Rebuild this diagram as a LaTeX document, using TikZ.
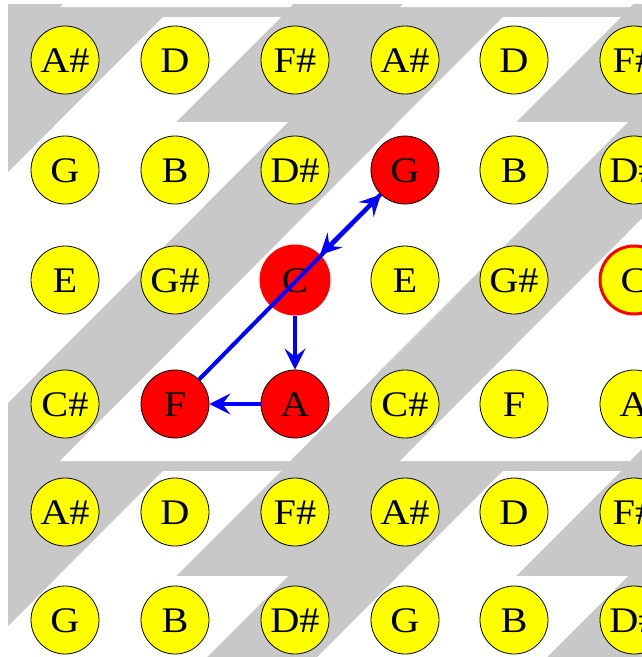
\documentclass[tikz,border=0pt]{standalone}
\usepackage{fontspec}
\setmainfont{Liberation Serif}[FakeStretch=1.12]
\usetikzlibrary{arrows.meta}
\definecolor{bggray}{RGB}{200,200,200}
\definecolor{noteyellow}{RGB}{255,255,0}
\definecolor{notered}{RGB}{255,0,0}
\definecolor{arrowblue}{RGB}{0,0,255}
\begin{document}
\begin{tikzpicture}[x=1pt,y=-1pt,
  note/.style={circle, draw=black, line width=0.8pt, fill=noteyellow, minimum size=68pt, inner sep=0pt,
    font=\fontsize{36}{36}\selectfont, text height=24pt, text depth=0pt},
  hit/.style={note, fill=notered},
  root/.style={note, draw=notered, line width=3pt},
  arr/.style={draw=arrowblue, line width=4pt, -{Stealth[length=21pt,width=21pt,inset=8pt]}}
]
\useasboundingbox (0,0) rectangle (642,657);
\clip (0,0) rectangle (642,657);
\begin{scope}
  \clip (8,4) rectangle (642,657);
  \fill[bggray] (8,4) rectangle (642,657);
  \foreach \k in {-1,0,1}{
    \foreach \m in {-1,0,1,2,3}{
      \fill[white, shift={(340*\m,454*\k)}]
        (163,17) -- (281,17) -- (176,122) -- (288,122) -- (-50,461) -- (-280,461) -- cycle;
    }
  }
\end{scope}
% row 0
\node[note] (r0c0) at (65,60) {A\#};
\node[note] (r0c1) at (175,60) {D};
\node[note] (r0c2) at (295,60) {F\#};
\node[note] (r0c3) at (405,60) {A\#};
\node[note] (r0c4) at (514,60) {D};
\node[note] (r0c5) at (634,60) {F\#};
% row 1
\node[note] (r1c0) at (65,170) {G};
\node[note] (r1c1) at (175,170) {B};
\node[note] (r1c2) at (295,170) {D\#};
\node[hit]  (G)    at (405,170) {G};
\node[note] (r1c4) at (514,170) {B};
\node[note] (r1c5) at (634,170) {D\#};
% row 2
\node[note] (r2c0) at (65,280) {E};
\node[note] (r2c1) at (175,280) {G\#};
\node[root, fill=notered] (C) at (295,280) {C};
\node[note] (r2c3) at (405,280) {E};
\node[note] (r2c4) at (514,280) {G\#};
\node[root] (r2c5) at (634,280) {C};
% row 3
\node[note] (r3c0) at (65,404) {C\#};
\node[hit]  (F)    at (175,404) {F};
\node[hit]  (A)    at (295,404) {A};
\node[note] (r3c3) at (405,404) {C\#};
\node[note] (r3c4) at (514,404) {F};
\node[note] (r3c5) at (634,404) {A};
% row 4
\node[note] (r4c0) at (65,512) {A\#};
\node[note] (r4c1) at (175,512) {D};
\node[note] (r4c2) at (295,512) {F\#};
\node[note] (r4c3) at (405,512) {A\#};
\node[note] (r4c4) at (514,512) {D};
\node[note] (r4c5) at (634,512) {F\#};
% row 5
\node[note] (r5c0) at (65,620) {G};
\node[note] (r5c1) at (175,620) {B};
\node[note] (r5c2) at (295,620) {D\#};
\node[note] (r5c3) at (405,620) {G};
\node[note] (r5c4) at (514,620) {B};
\node[note] (r5c5) at (634,620) {D\#};
% arrows
\draw[arr] (F) -- (G);
\draw[arr] (G) -- (C);
\draw[arr] (C) -- (A);
\draw[arr] (A) -- (F);
\end{tikzpicture}
\end{document}
